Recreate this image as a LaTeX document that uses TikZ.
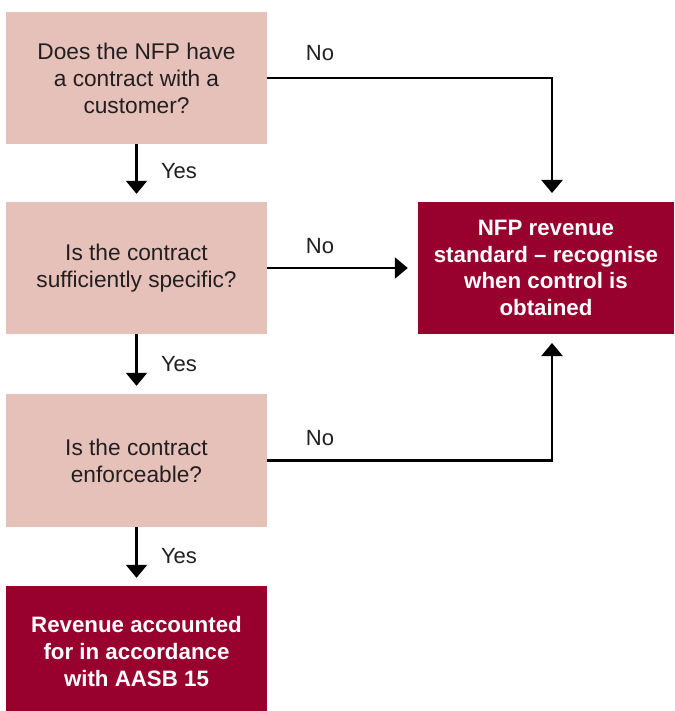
\documentclass[tikz,border=0pt]{standalone}
\usepackage{fontspec}
\setmainfont{Liberation Sans}
\usetikzlibrary{arrows.meta}
\definecolor{pinkbox}{HTML}{E6C1BA}
\definecolor{darkred}{HTML}{98002E}
\definecolor{txt}{HTML}{231F20}
\begin{document}
\begin{tikzpicture}[x=1pt,y=-1pt,
  qbox/.style={fill=pinkbox, draw=none, minimum width=261pt, align=center, text=txt,
     font=\fontsize{22.7}{27}\selectfont, inner sep=0pt},
  abox/.style={fill=darkred, draw=none, align=center, text=white,
     font=\fontsize{22.3}{26.7}\selectfont\bfseries, inner sep=0pt},
  arr/.style={line width=2.3pt, -{Triangle[width=21pt,length=13pt]}, shorten >=8pt},
  lbl/.style={text=txt, font=\fontsize{22}{26}\selectfont, inner sep=0pt}]
\useasboundingbox (0,0) rectangle (674,711);
\node[qbox, minimum height=132pt] (b1) at (136.5,78) {Does the NFP have\\a contract with a\\customer?};
\node[qbox, minimum height=132pt] (b2) at (136.5,268) {Is the contract\\sufficiently specific?};
\node[qbox, minimum height=133pt] (b3) at (136.5,460.5) {Is the contract\\enforceable?};
\node[abox, minimum width=261pt, minimum height=131pt] (b4) at (136.5,651.5) {Revenue accounted\\for in accordance\\with AASB 15};
\node[abox, minimum width=256pt, minimum height=132pt] (r) at (546,268) {NFP revenue\\standard -- recognise\\when control is\\obtained};
\coordinate (rt) at (552,202);
\coordinate (rb) at (552,334);
\draw[arr] (b1) -- (b2);
\draw[arr] (b2) -- (b3);
\draw[arr] (b3) -- (b4);
\draw[arr, shorten >=9pt] (b1.east) -| (rt);
\draw[arr, shorten >=10pt] (b2.east) -- (r.west);
\draw[arr, shorten >=9pt] (b3.east) -| (rb);
\node[lbl] (n1) at (320,53) {No};
\node[lbl] (n2) at (320,246) {No};
\node[lbl] (n3) at (320,438) {No};
\node[lbl] (y1) at (179,171) {Yes};
\node[lbl] (y2) at (179,364) {Yes};
\node[lbl] (y3) at (179,556) {Yes};
\end{tikzpicture}
\end{document}
